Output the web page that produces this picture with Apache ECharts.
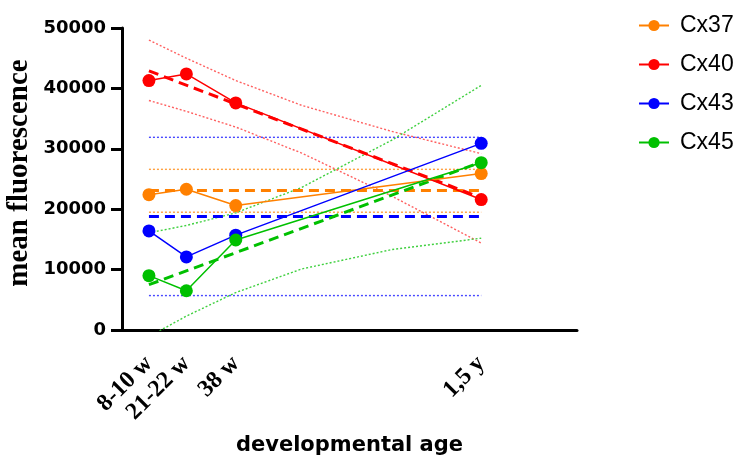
<!DOCTYPE html>
<html>
<head>
<meta charset="utf-8">
<script src="https://cdn.jsdelivr.net/npm/echarts@6/dist/echarts.min.js"></script>
<style>html,body{margin:0;padding:0;background:#fff}#c{width:746px;height:471px}</style>
</head>
<body>
<div id="c"></div>
<script>
// ---- data ----
const weeks = [9, 21.5, 38, 120];
const xTickValues = [9, 21.5, 38, 120];
const xTickLabels = ['8-10 w', '21-22 w', '38 w', '1,5 y'];
const yTicks = [0, 10000, 20000, 30000, 40000, 50000];

const cx37 = [22400, 23300, 20600, 25900];
const cx40 = [41300, 42400, 37600, 21600];
const cx43 = [16400, 12100, 15700, 30900];
const cx45 = [9000, 6500, 14900, 27700];

// regression lines (dashed), read at the ends
const fitX = [9, 120];
const cx37Fit = [23100, 23100];
const cx40Fit = [42900, 21900];
const cx43Fit = [18800, 18800];
const cx45Fit = [7500, 27800];

// confidence bands (dotted)
const flatX = [9, 120];
const cx37Upper = [26600, 26600];
const cx37Lower = [19500, 19500];
const cx43Upper = [31900, 31900];
const cx43Lower = [5700, 5700];
const bandX = [9, 21.5, 38, 60, 90, 120];
const cx40Upper = [48000, 45000, 41300, 37200, 32900, 29200];
const cx40Lower = [38000, 36200, 33600, 29300, 22200, 14400];
const cx45Upper = [16100, 17300, 19400, 23600, 31400, 40500];
const cx45Lower = [-1100, 2300, 6200, 10100, 13300, 15200];

const colors = { Cx37: '#FF8000', Cx40: '#FF0000', Cx43: '#0000FF', Cx45: '#00C000' };
const lightColors = { Cx37: '#FFA040', Cx40: '#FF6060', Cx43: '#4848FF', Cx45: '#40D040' };

function pairs(xs, ys) { return xs.map((x, i) => [x, ys[i]]); }

function dataSeries(name, ys) {
  return {
    name: name, type: 'line', data: pairs(weeks, ys), z: 5,
    symbol: 'circle', symbolSize: 13,
    itemStyle: { color: colors[name] },
    lineStyle: { color: colors[name], width: 1.5 },
    emphasis: { disabled: true }, animation: false
  };
}
function fitSeries(name, ys) {
  return {
    type: 'line', data: pairs(fitX, ys), symbol: 'none', z: 4,
    lineStyle: { color: colors[name], width: 3, type: [10, 6] },
    emphasis: { disabled: true }, animation: false, silent: true
  };
}
function bandSeries(name, xs, ys) {
  return {
    type: 'line', data: pairs(xs, ys), symbol: 'none', z: 3, clip: true,
    lineStyle: { color: lightColors[name], width: 1.4, type: [2, 2] },
    emphasis: { disabled: true }, animation: false, silent: true
  };
}

const chart = echarts.init(document.getElementById('c'));
chart.setOption({
  animation: false,
  backgroundColor: '#fff',
  grid: { left: 122, right: 169, top: 28, bottom: 141, containLabel: false, outerBoundsMode: 'none' },
  graphic: [{
    type: 'text', x: 34, y: 173, rotation: Math.PI / 2, silent: true,
    style: {
      text: 'mean fluorescence', fill: '#000',
      font: 'bold 29px "Liberation Serif"',
      textAlign: 'center', textVerticalAlign: 'bottom'
    }
  }],
  legend: {
    data: ['Cx37', 'Cx40', 'Cx43', 'Cx45'],
    orient: 'vertical', left: 633, top: 8,
    itemWidth: 30, itemHeight: 14, itemGap: 14,
    textStyle: { fontFamily: 'Liberation Sans', fontSize: 23, color: '#000', padding: [0, 0, 0, 6], lineHeight: 25 }
  },
  xAxis: {
    type: 'value', min: 0, max: 152,
    name: 'developmental age', nameLocation: 'middle', nameGap: 105,
    nameTextStyle: { fontFamily: 'DejaVu Sans', fontWeight: 'bold', fontSize: 21, color: '#000' },
    axisLine: { show: true, onZero: false, lineStyle: { color: '#000', width: 3 } },
    axisTick: { show: false },
    splitLine: { show: false },
    axisLabel: {
      customValues: xTickValues,
      rotate: 45, margin: 30,
      fontFamily: 'Liberation Serif', fontWeight: 'bold', fontSize: 24, color: '#000',
      formatter: function (v) { const i = xTickValues.indexOf(v); return i >= 0 ? xTickLabels[i] : ''; }
    }
  },
  yAxis: {
    type: 'value', min: 0, max: 50000, interval: 10000,
    axisLine: { show: true, lineStyle: { color: '#000', width: 3 } },
    axisTick: { show: true, length: 11, lineStyle: { color: '#000', width: 3 } },
    splitLine: { show: false },
    axisLabel: {
      customValues: yTicks, margin: 16,
      fontFamily: 'DejaVu Sans', fontWeight: 'bold', fontSize: 18, color: '#000',
      formatter: function (v) { return String(v); }
    }
  },
  series: [
    bandSeries('Cx37', flatX, cx37Upper), bandSeries('Cx37', flatX, cx37Lower),
    bandSeries('Cx40', bandX, cx40Upper), bandSeries('Cx40', bandX, cx40Lower),
    bandSeries('Cx43', flatX, cx43Upper), bandSeries('Cx43', flatX, cx43Lower),
    bandSeries('Cx45', bandX, cx45Upper), bandSeries('Cx45', bandX, cx45Lower),
    fitSeries('Cx37', cx37Fit), fitSeries('Cx40', cx40Fit),
    fitSeries('Cx43', cx43Fit), fitSeries('Cx45', cx45Fit),
    dataSeries('Cx37', cx37), dataSeries('Cx40', cx40),
    dataSeries('Cx43', cx43), dataSeries('Cx45', cx45)
  ]
});
</script>
</body>
</html>
